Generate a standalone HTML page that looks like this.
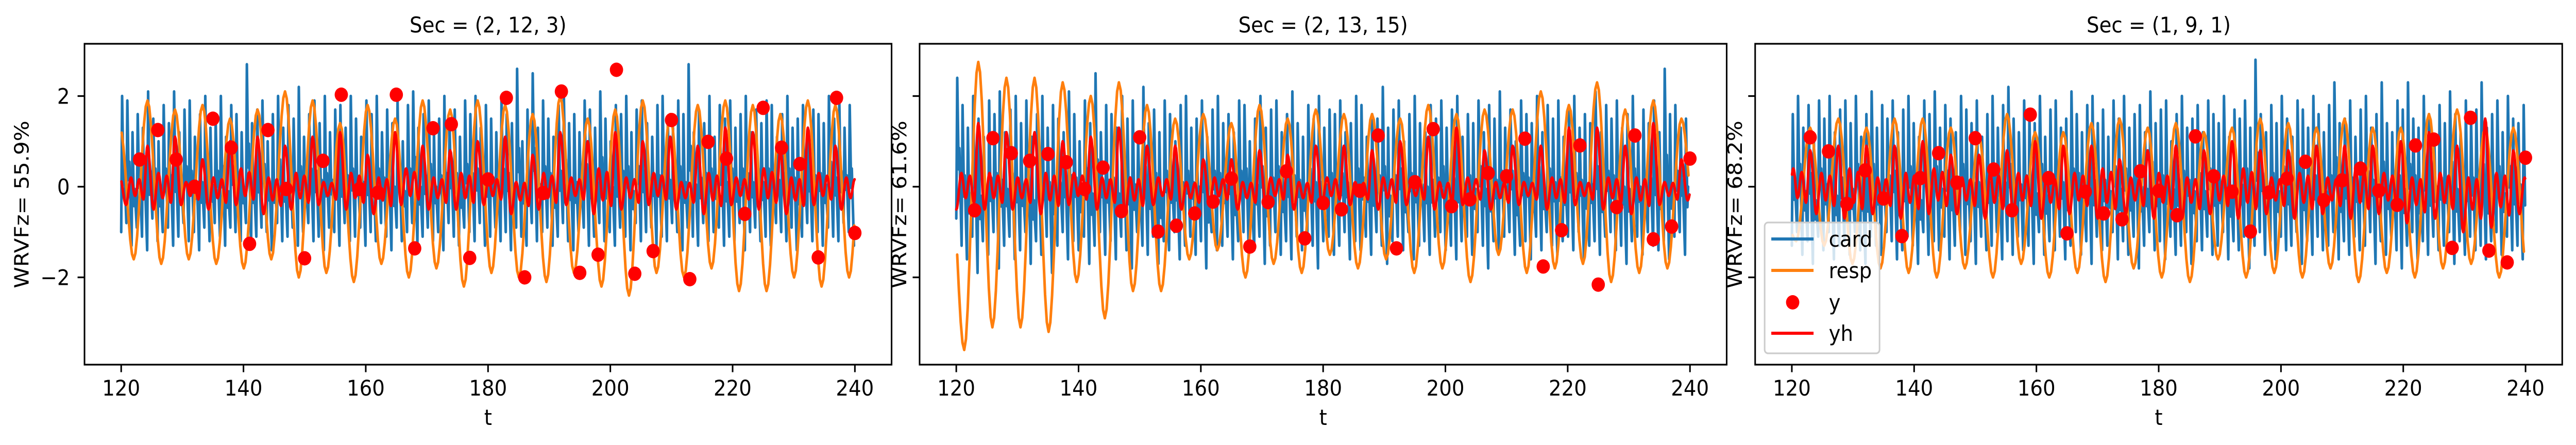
<!DOCTYPE html>
<html><head><meta charset="utf-8">
<style>
html,body{margin:0;padding:0;background:#fff;width:100%;height:100%;overflow:hidden;}
svg{display:block;width:100vw;height:100vh;font-family:"DejaVu Sans","Liberation Sans",sans-serif;}
</style></head>
<body>
<svg id="fig" viewBox="0 0 5426 864" preserveAspectRatio="none" xmlns="http://www.w3.org/2000/svg">
<rect x="0" y="0" width="5426" height="864" fill="#fff"/>
</svg>
<script>
// ---------- data ----------
const panelTitles = ["Sec = (2, 12, 3)", "Sec = (2, 13, 15)", "Sec = (1, 9, 1)"];
const yLabels = ["WRVFz= 55.9%", "WRVFz= 61.6%", "WRVFz= 68.2%"];
const xTicks = [120, 140, 160, 180, 200, 220, 240];
const xTickLabels = ["120", "140", "160", "180", "200", "220", "240"];
const yTicks = [-2, 0, 2];
const yTickLabels = ["\u22122", "0", "2"];
const seriesNames = ["card", "resp", "y", "yh"];

const yTimes = [123,126,129,132,135,138,141,144,147,150,153,156,159,162,165,168,171,174,177,180,183,186,189,192,195,198,201,204,207,210,213,216,219,222,225,228,231,234,237,240];
const y1 = [0.6,1.25,0.6,0,1.5,0.86,-1.26,1.25,-0.05,-1.58,0.57,2.03,-0.05,-0.13,2.03,-1.36,1.29,1.38,-1.57,0.16,1.96,-2.0,-0.14,2.1,-1.9,-1.5,2.58,-1.92,-1.42,1.47,-2.04,0.99,0.62,-0.6,1.74,0.86,0.5,-1.56,1.96,-1.02];
const y2 = [-0.52,1.07,0.74,0.57,0.72,0.54,-0.05,0.42,-0.54,1.09,-0.99,-0.86,-0.59,-0.33,0.18,-1.32,-0.34,0.34,-1.14,-0.36,-0.5,-0.09,1.13,-1.36,0.1,1.27,-0.43,-0.28,0.3,0.23,1.06,-1.76,-0.96,0.91,-2.16,-0.45,1.13,-1.16,-0.88,0.62];
const y3 = [1.09,0.78,-0.38,0.36,-0.26,-1.09,0.19,0.74,0.09,1.07,0.38,-0.52,1.59,0.19,-1.03,-0.11,-0.59,-0.72,0.34,-0.09,-0.63,1.11,0.23,-0.11,-0.99,-0.13,0.18,0.55,-0.3,0.14,0.4,-0.09,-0.4,0.91,1.04,-1.35,1.52,-1.41,-1.67,0.64];

// card: beat peaks / troughs (beat period per panel)
const cardPeriod = [0.85, 0.87, 0.86];
const cardPeak1 = [2.0,1.9,1.2,1.6,1.3,2.1,1.5,1.0,1.8,1.4,2.1,1.2,1.7,1.9,1.1,1.6,2.0,1.3,1.5,2.0,1.1,1.8,1.6,1.2,2.7,1.4,1.7,1.9,1.0,1.6,2.0,1.3,1.8,1.5,2.2,1.1,1.6,1.9,1.4,2.0,1.2,1.7,1.8,1.3,2.0,1.5,1.1,1.9,1.6,2.0,1.2,1.7,1.4,1.9,1.0,1.8,2.1,1.3,1.6,1.9,1.2,1.5,2.0,1.4,1.7,1.1,1.9,1.6,2.0,1.3,1.8,1.5,1.2,2.0,1.6,1.4,2.6,1.0,1.7,2.5,1.3,1.9,1.5,1.1,1.8,2.0,1.4,1.6,1.2,1.9,1.7,1.3,2.1,1.5,1.0,1.8,1.6,2.0,1.2,1.7,1.9,1.4,1.1,1.8,2.0,1.5,1.3,1.9,1.6,2.7,1.2,1.7,1.4,2.0,1.1,1.8,1.5,1.9,1.3,1.6,2.0,1.2,1.7,1.4,1.9,1.8,1.1,1.6,2.0,1.3,1.5,1.8,1.2,1.7,1.6,1.4,2.0,1.5,1.9,1.3,1.8,1.6];
const cardTrough1 = [-1.0,-0.8,-1.3,-0.9,-1.1,-1.4,-0.7,-1.2,-1.0,-0.9,-1.3,-1.1,-0.8,-1.2,-1.0,-1.4,-0.9,-1.2,-0.8,-1.1,-1.3,-0.9,-1.0,-1.2,-0.8,-1.3,-1.1,-0.9,-1.0,-1.4,-0.8,-1.2,-1.1,-0.9,-1.3,-1.0,-0.8,-1.2,-1.1,-1.4,-0.9,-1.0,-1.3,-0.8,-1.2,-1.1,-0.9,-1.3,-1.0,-1.2,-0.8,-1.1,-1.4,-0.9,-1.2,-1.0,-0.8,-1.3,-1.1,-0.9,-1.2,-1.0,-1.4,-0.8,-1.1,-1.3,-0.9,-1.0,-1.2,-0.8,-1.3,-1.1,-0.9,-1.2,-1.0,-1.4,-0.9,-1.1,-1.3,-0.8,-1.2,-1.0,-0.9,-1.3,-1.1,-0.8,-1.2,-1.4,-1.0,-0.9,-1.3,-1.1,-0.8,-1.2,-1.0,-1.3,-0.9,-1.1,-1.4,-0.8,-1.2,-1.0,-0.9,-1.3,-1.1,-1.2,-0.8,-1.0,-1.4,-0.9,-1.1,-1.3,-0.8,-1.2,-1.0,-0.9,-1.3,-1.1,-1.2,-0.8,-1.4,-1.0,-0.9,-1.2,-1.1,-1.3,-0.8,-1.0,-1.2,-0.9,-1.4,-1.1,-0.8,-1.2,-1.0,-1.3,-0.9,-1.1,-1.2,-0.8,-1.0,-1.3];
const cardPeak2 = [2.4,1.8,1.3,2.0,1.5,1.1,1.9,1.6,2.1,1.2,1.7,2.0,1.4,1.9,1.1,1.6,2.0,1.3,1.8,1.5,1.2,2.1,1.6,1.0,1.9,1.4,2.5,1.2,1.8,1.6,1.3,2.0,1.5,1.9,1.1,2.2,1.4,1.7,1.2,1.9,1.6,1.0,1.8,2.0,1.3,1.5,1.9,1.1,1.7,2.0,1.4,1.6,1.2,1.9,1.8,1.0,1.5,2.0,1.3,1.7,1.9,1.2,1.6,2.1,1.4,1.1,1.8,1.5,2.0,1.3,1.7,1.6,1.9,1.2,1.4,2.0,1.8,1.1,1.6,1.5,2.2,1.3,1.7,1.9,1.0,1.6,2.0,1.4,1.2,1.8,1.5,1.9,1.3,1.7,2.0,1.1,1.6,1.4,1.9,1.2,1.8,1.5,2.1,1.3,1.7,1.0,1.9,1.6,1.4,2.0,1.2,1.8,1.5,1.9,1.1,1.7,2.0,1.3,1.6,1.4,2.1,1.2,1.8,1.5,1.9,1.3,1.6,2.0,1.1,1.7,1.4,1.9,1.2,2.6,1.6,1.8,1.3,1.5,1.9,1.2,1.7,1.4];
const cardTrough2 = [-0.7,-1.3,-1.6,-1.1,-1.9,-1.2,-1.5,-1.0,-1.8,-1.3,-1.1,-1.6,-1.4,-1.0,-1.7,-1.2,-1.5,-1.1,-1.9,-1.3,-1.0,-1.6,-1.2,-1.4,-1.1,-1.7,-1.3,-1.0,-1.5,-1.2,-1.6,-1.1,-1.4,-1.8,-1.0,-1.3,-1.5,-1.1,-1.7,-1.2,-1.4,-1.0,-1.6,-1.3,-1.1,-1.5,-1.2,-1.8,-1.0,-1.4,-1.3,-1.1,-1.6,-1.2,-1.0,-1.5,-1.4,-1.1,-1.7,-1.3,-1.0,-1.5,-1.2,-1.6,-1.1,-1.4,-1.0,-1.3,-1.8,-1.2,-1.1,-1.5,-1.3,-1.0,-1.6,-1.2,-1.4,-1.1,-1.5,-1.0,-1.3,-1.7,-1.2,-1.1,-1.4,-1.0,-1.6,-1.3,-1.2,-1.5,-1.1,-1.0,-1.4,-1.3,-1.6,-1.2,-1.1,-1.5,-1.0,-1.3,-1.8,-1.2,-1.4,-1.1,-1.0,-1.5,-1.3,-1.2,-1.6,-1.1,-1.4,-1.0,-1.3,-1.5,-1.2,-1.1,-1.4,-1.0,-1.6,-1.3,-1.2,-1.5,-1.1,-1.0,-1.4,-1.3,-1.7,-1.2,-1.1,-1.5,-1.0,-1.3,-1.4,-1.2,-1.6,-1.1,-1.0,-1.5,-1.3,-1.2];
const cardPeak3 = [1.6,2.0,1.3,1.8,1.1,1.9,1.5,2.0,1.2,1.7,1.9,1.4,2.0,1.1,1.6,2.1,1.3,1.8,1.5,1.9,1.2,1.7,2.0,1.4,1.1,1.9,1.6,2.1,1.3,1.8,1.5,1.2,2.0,1.7,1.4,1.9,1.1,1.6,2.0,1.3,1.8,2.2,1.5,1.2,1.9,1.6,1.4,2.0,1.1,1.7,1.9,1.3,1.5,2.1,1.6,1.2,1.8,2.0,1.4,1.7,1.1,1.9,1.5,2.0,1.3,1.6,1.8,1.2,2.1,1.4,1.7,1.9,1.0,1.6,2.0,1.3,1.5,1.8,1.2,1.9,1.6,1.4,2.0,1.1,1.7,1.5,1.9,1.3,2.8,1.6,1.2,1.8,1.4,2.0,1.5,1.1,1.9,1.7,1.3,2.0,1.6,1.2,1.8,2.3,1.4,1.5,1.9,1.1,1.7,2.0,1.3,1.6,2.3,1.4,1.2,1.9,1.7,2.3,1.5,1.3,2.0,1.6,1.1,1.8,1.4,2.1,1.6,1.2,1.9,1.5,1.7,2.3,1.3,1.6,1.9,1.2,2.0,1.5,1.4,1.8,1.6,1.3];
const cardTrough3 = [-1.3,-1.0,-1.5,-1.2,-1.7,-1.1,-1.4,-1.0,-1.6,-1.3,-1.2,-1.5,-1.0,-1.4,-1.7,-1.1,-1.3,-1.5,-1.0,-1.2,-1.6,-1.4,-1.1,-1.3,-1.7,-1.0,-1.5,-1.2,-1.4,-1.1,-1.6,-1.3,-1.0,-1.5,-1.2,-1.7,-1.1,-1.4,-1.3,-1.0,-1.6,-1.2,-1.5,-1.1,-1.4,-1.3,-1.7,-1.0,-1.5,-1.2,-1.4,-1.1,-1.6,-1.3,-1.0,-1.5,-1.2,-1.7,-1.1,-1.4,-1.3,-1.0,-1.6,-1.2,-1.5,-1.1,-1.8,-1.3,-1.0,-1.4,-1.2,-1.6,-1.1,-1.5,-1.3,-1.0,-1.7,-1.2,-1.4,-1.1,-1.5,-1.3,-1.0,-1.6,-1.2,-1.4,-1.1,-1.8,-1.3,-1.0,-1.5,-1.2,-1.6,-1.1,-1.4,-1.3,-1.0,-1.7,-1.2,-1.5,-1.1,-1.4,-1.3,-1.0,-1.6,-1.2,-1.5,-1.1,-1.4,-1.3,-1.0,-1.7,-1.2,-1.5,-1.1,-1.4,-1.8,-1.3,-1.0,-1.6,-1.2,-1.5,-1.1,-1.4,-1.3,-1.0,-1.7,-1.2,-1.5,-1.1,-1.4,-1.3,-1.6,-1.2,-1.0,-1.5,-1.1,-1.4,-1.3,-1.6,-1.2,-1.0];

// resp: breath peaks / troughs (breath period and first-peak time per panel)
const respPeriod = [4.5, 4.6, 4.6];
const respStart = [119.8, 119.0, 118.4];
const respPeak1 = [1.3,1.9,1.7,1.8,1.5,1.7,2.1,1.9,1.4,1.8,1.5,1.9,1.7,1.9,1.8,1.6,2.0,1.5,1.7,1.9,1.6,1.8,1.9,1.8,1.6,1.9,1.8,1.7];
const respTrough1 = [-1.6,-1.7,-1.6,-1.7,-1.8,-1.6,-2.0,-1.9,-2.1,-1.7,-2.0,-1.8,-2.2,-1.9,-2.0,-2.1,-1.9,-2.2,-2.4,-1.9,-2.0,-1.8,-2.3,-2.3,-2.0,-2.2,-2.0,-1.9];
const respPeak2 = [0.6,2.75,2.4,2.4,2.3,2.0,2.3,1.8,1.5,1.6,1.4,1.8,1.5,1.7,1.6,1.6,1.5,1.8,1.6,1.7,1.7,2.1,1.8,2.3,1.7,1.9,1.5];
const respTrough2 = [-3.6,-3.1,-3.1,-3.2,-2.1,-2.9,-2.3,-2.3,-1.6,-1.4,-2.0,-1.7,-1.9,-1.5,-1.8,-1.6,-1.9,-1.8,-2.1,-1.5,-1.9,-1.8,-1.7,-2.1,-1.9,-1.8,-1.0];
const respPeak3 = [-0.3,1.3,1.5,1.3,1.5,1.5,1.3,1.1,1.6,1.2,1.2,1.4,1.5,1.3,1.4,1.2,1.3,1.5,1.4,1.3,1.5,1.3,1.3,1.6,1.7,1.3,1.3];
const respTrough3 = [-1.2,-1.3,-1.7,-1.8,-1.9,-2.0,-1.8,-2.0,-1.7,-2.0,-1.9,-2.1,-1.8,-2.0,-2.1,-1.6,-2.0,-1.9,-2.0,-1.8,-2.1,-1.9,-2.0,-1.8,-1.7,-2.0,-1.9];

// yh: per-breath peak, trough, mid bump
const yhPeak1 = [0.2,0.9,1.1,0.6,1.0,1.1,0.9,1.1,1.2,0.7,1.2,0.9,0.8,1.0,1.1,0.7,1.2,1.0,1.2,1.0,1.1,0.9,1.3,1.2,0.8,1.3,0.9,1.0];
const yhTrough1 = [-0.4,-0.5,-0.4,-0.5,-0.4,-0.6,-0.5,-0.4,-0.5,-0.6,-0.4,-0.5,-0.5,-0.4,-0.6,-0.5,-0.4,-0.6,-0.5,-0.4,-0.5,-0.6,-0.4,-0.5,-0.6,-0.4,-0.5,-0.5];
const yhMid1 = [0.2,0.3,0.1,0.2,0.4,0.2,0.3,0.1,0.3,0.2,0.4,0.2,0.3,0.2,0.1,0.3,0.2,0.4,0.2,0.3,0.1,0.3,0.2,0.4,0.2,0.3,0.2,0.3];
const yhPeak2 = [0.3,1.4,1.2,1.2,1.0,1.1,1.3,0.9,0.9,0.6,0.6,0.8,0.7,0.9,0.9,0.8,1.0,1.1,1.3,0.8,0.9,0.9,1.3,1.3,0.9,1.4,0.6];
const yhTrough2 = [-0.5,-0.5,-0.5,-0.6,-0.4,-0.5,-0.6,-0.4,-0.5,-0.4,-0.5,-0.4,-0.5,-0.4,-0.4,-0.5,-0.4,-0.5,-0.4,-0.5,-0.4,-0.5,-0.4,-0.5,-0.6,-0.4,-0.3];
const yhMid2 = [0.3,0.3,0.2,0.3,0.3,0.2,0.2,0.2,0.1,0.2,0.1,0.2,0.1,0.2,0.1,0.2,0.1,0.1,0.2,0.1,0.1,0.2,0.1,0.2,0.2,0.1,0.1];
const yhPeak3 = [0.2,0.8,0.9,0.9,0.9,1.0,0.7,0.7,0.8,1.0,0.9,0.9,0.6,0.8,0.9,0.8,1.0,0.8,0.8,0.9,0.9,0.9,1.0,1.2,0.9,1.5,0.8];
const yhTrough3 = [-0.5,-0.6,-0.7,-0.6,-0.7,-0.6,-0.6,-0.7,-0.6,-0.7,-0.6,-0.7,-0.6,-0.7,-0.7,-0.6,-0.7,-0.6,-0.7,-0.6,-0.7,-0.6,-0.8,-0.7,-1.0,-0.9,-0.6];
const yhMid3 = [0.4,0.3,0.4,0.2,0.3,0.4,0.2,0.3,0.3,0.2,0.3,0.4,0.2,0.3,0.2,0.3,0.4,0.2,0.3,0.2,0.4,0.3,0.2,0.3,0.2,0.3,0.2];

// ---------- layout ----------
const svg = document.getElementById('fig');
const NS = 'http://www.w3.org/2000/svg';
const axLeft = [178, 1937, 3697];
const axW = 1700, axTop = 85, axBot = 708;
const XMIN = 114, XMAX = 246;
const Y0PIX = 362.5, YUNIT = 88;
const FS = 42;
const C_BLUE = '#1f77b4', C_ORANGE = '#ff7f0e', C_RED = '#ff0000';
function xs(p, t) { return axLeft[p] + (t - XMIN) / (XMAX - XMIN) * axW; }
function ys(v) { return Y0PIX - v * YUNIT; }
function mk(tag, attrs, parent) {
  const e = document.createElementNS(NS, tag);
  for (const k in attrs) e.setAttribute(k, attrs[k]);
  (parent || svg).appendChild(e);
  return e;
}
function txt(s, attrs, parent) { const e = mk('text', attrs, parent); e.textContent = s; return e; }

const cardPeaks = [cardPeak1, cardPeak2, cardPeak3];
const cardTroughs = [cardTrough1, cardTrough2, cardTrough3];
const respPeaks = [respPeak1, respPeak2, respPeak3];
const respTroughs = [respTrough1, respTrough2, respTrough3];
const yhPeaks = [yhPeak1, yhPeak2, yhPeak3];
const yhTroughs = [yhTrough1, yhTrough2, yhTrough3];
const yhMids = [yhMid1, yhMid2, yhMid3];
const yVals = [y1, y2, y3];

function cardPts(p) {
  const pk = cardPeaks[p], tr = cardTroughs[p], P = cardPeriod[p];
  const pts = [];
  for (let i = 0; i < pk.length; i++) {
    const t = 120 + i * P, a = tr[i], b = pk[i];
    const evs = [[t, a], [t + 0.18 * P, b], [t + 0.45 * P, a + 0.35 * (b - a)], [t + 0.58 * P, a + 0.5 * (b - a)]];
    for (const e of evs) if (e[0] >= 120 && e[0] <= 240) pts.push(e);
  }
  return pts;
}
function smoothPts(p, evs) {
  const pts = [];
  for (let k = 0; k < evs.length - 1; k++) {
    const [t0, v0] = evs[k], [t1, v1] = evs[k + 1];
    const n = 8;
    for (let j = 0; j < n; j++) {
      const f = j / n, t = t0 + f * (t1 - t0);
      const v = v0 + (v1 - v0) * (1 - Math.cos(Math.PI * f)) / 2;
      if (t >= 120 && t <= 240) pts.push([t, v]);
    }
  }
  return pts;
}
function respPts(p) {
  const pk = respPeaks[p], tr = respTroughs[p], P = respPeriod[p], s = respStart[p];
  const evs = [];
  for (let i = 0; i < pk.length; i++) {
    evs.push([s + i * P, pk[i]]);
    if (i < tr.length) evs.push([s + (i + 0.5) * P, tr[i]]);
  }
  return smoothPts(p, evs);
}
function yhPts(p) {
  const pk = yhPeaks[p], tr = yhTroughs[p], md = yhMids[p], P = respPeriod[p], s = respStart[p];
  const evs = [];
  for (let i = 0; i < pk.length; i++) {
    const t = s + i * P;
    evs.push([t, pk[i]]);
    evs.push([t + 0.22 * P, tr[i]]);
    evs.push([t + 0.4 * P, md[i]]);
    evs.push([t + 0.55 * P, tr[i] * 0.5]);
    evs.push([t + 0.7 * P, md[i] * 0.8]);
    evs.push([t + 0.85 * P, tr[i] * 0.7]);
  }
  return smoothPts(p, evs);
}
function polyline(p, pts, color, name, parent) {
  const pl = mk('polyline', {points: pts.map(q => xs(p, q[0]).toFixed(1) + ',' + ys(q[1]).toFixed(1)).join(' '),
    fill: 'none', stroke: color, 'stroke-width': 5.5, 'stroke-linejoin': 'round', 'stroke-linecap': 'round'}, parent);
  
  
  return pl;
}

for (let p = 0; p < 3; p++) {
  const L = axLeft[p];
  const g = mk('g', {});
  
  
  const cp = mk('clipPath', {id: 'clip' + p}, g);
  mk('rect', {x: L, y: axTop, width: axW, height: axBot - axTop}, cp);
  const plot = mk('g', {'clip-path': 'url(#clip' + p + ')'}, g);
  
  
  polyline(p, cardPts(p), C_BLUE, 'card-line', plot);
  polyline(p, respPts(p), C_ORANGE, 'resp-line', plot);
  const dots = mk('g', {fill: C_RED}, plot);
  
  
  for (let i = 0; i < yTimes.length; i++) {
    const c = mk('circle', {cx: xs(p, yTimes[i]).toFixed(1), cy: ys(yVals[p][i]).toFixed(1), r: 14}, dots);
    
    
  }
  polyline(p, yhPts(p), C_RED, 'yh-line', plot);

  const fr = mk('rect', {x: L, y: axTop, width: axW, height: axBot - axTop, fill: 'none', stroke: '#000', 'stroke-width': 3.3}, g);
  
  
  for (let i = 0; i < xTicks.length; i++) {
    const x = xs(p, xTicks[i]);
    const tk = mk('line', {x1: x, x2: x, y1: axBot, y2: axBot + 14.6, stroke: '#000', 'stroke-width': 3.3}, g);
    
    
    const tl = txt(xTickLabels[i], {x: x, y: axBot + 60, 'font-size': FS, 'text-anchor': 'middle', fill: '#000'}, g);
    
    
  }
  for (let i = 0; i < yTicks.length; i++) {
    const y = ys(yTicks[i]);
    const tk = mk('line', {x1: L - 14.6, x2: L, y1: y, y2: y, stroke: '#000', 'stroke-width': 3.3}, g);
    
    
    if (p === 0) {
      const tl = txt(yTickLabels[i], {x: L - 31, y: y + 15, 'font-size': FS, 'text-anchor': 'end', fill: '#000'}, g);
      
      
    }
  }
  const xl = txt('t', {x: L + axW / 2, y: 825, 'font-size': FS, 'text-anchor': 'middle', fill: '#000'}, g);
  
  
  const ylx = p === 0 ? 60 : L - 28;
  const yl = txt(yLabels[p], {x: ylx, y: 397, 'font-size': FS, 'text-anchor': 'middle', fill: '#000', transform: 'rotate(-90 ' + ylx + ' 397)'}, g);
  
  
  const tt = txt(panelTitles[p], {x: L + axW / 2, y: 63, 'font-size': FS, 'text-anchor': 'middle', fill: '#000'}, g);
  
  
}

// legend (panel 3)
const lg = mk('g', {});


const lbox = mk('rect', {x: 3717, y: 432, width: 242, height: 254, rx: 7, fill: '#fff', 'fill-opacity': 0.8, stroke: '#cccccc', 'stroke-width': 3.3}, lg);


const legColors = [C_BLUE, C_ORANGE, C_RED, C_RED];
const legY = [464, 525, 587, 647];
for (let i = 0; i < 4; i++) {
  const e = mk('g', {}, lg);
  
  
  if (i === 2) mk('circle', {cx: 3776, cy: legY[i], r: 14, fill: C_RED}, e);
  else mk('line', {x1: 3731, x2: 3820, y1: legY[i], y2: legY[i], stroke: legColors[i], 'stroke-width': 6}, e);
  txt(seriesNames[i], {x: 3852, y: legY[i] + 15, 'font-size': FS, fill: '#000'}, e);
}
</script>
</body></html>
